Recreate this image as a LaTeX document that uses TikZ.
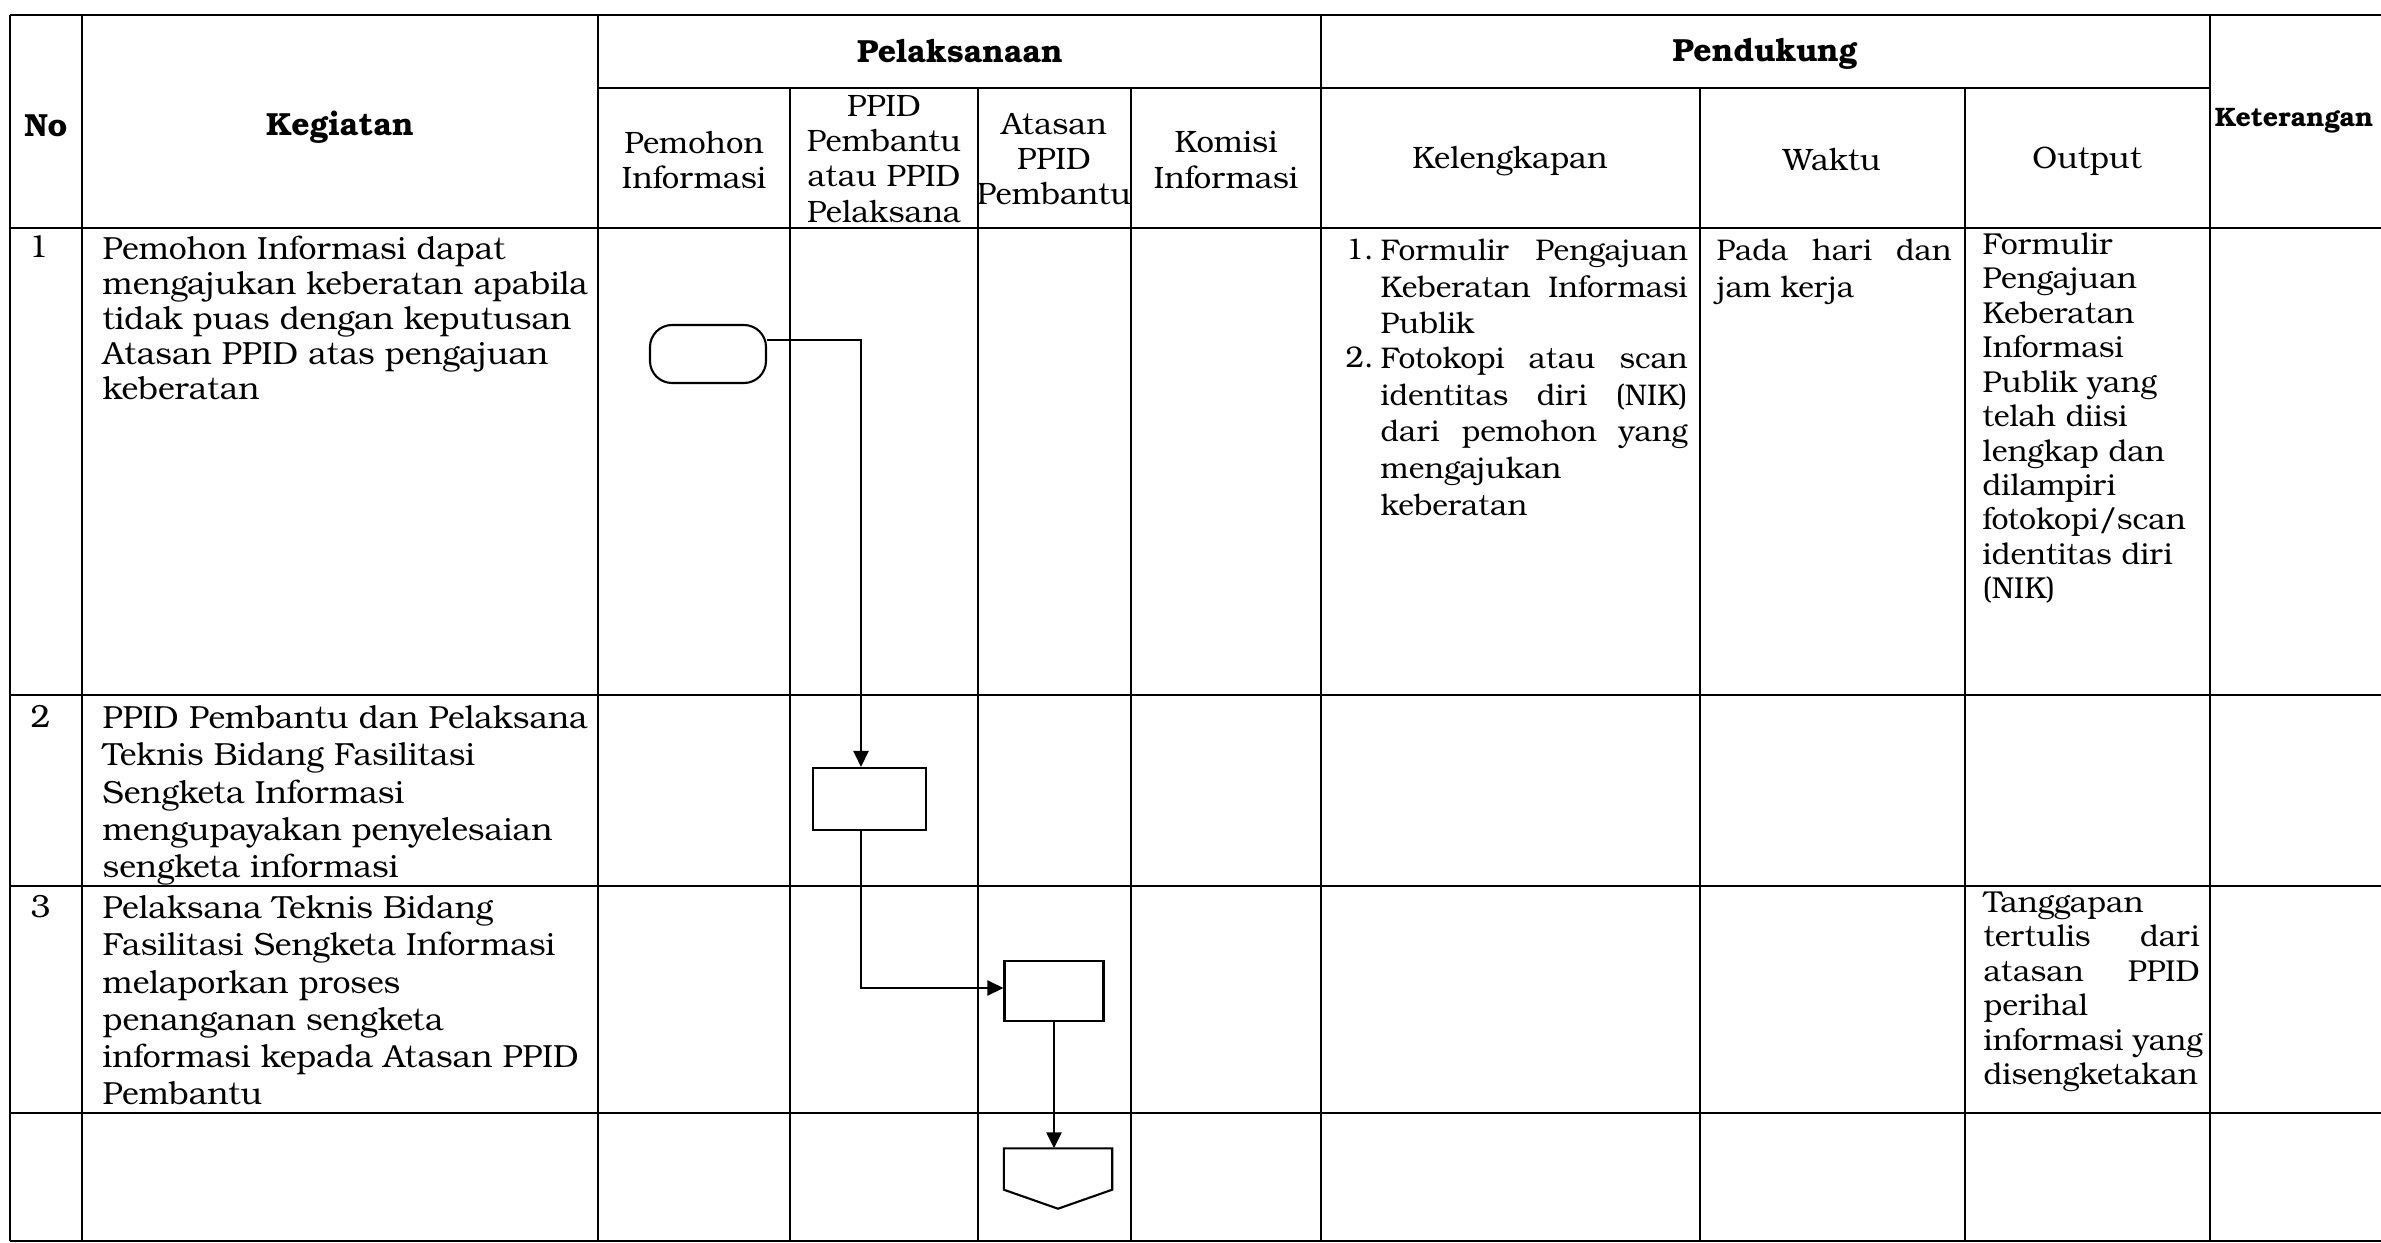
\documentclass[tikz,border=0pt]{standalone}
\usepackage{fontspec}
\setmainfont{TeX Gyre Bonum}
\usepackage{tikz}
\usetikzlibrary{arrows.meta}

\begin{document}
\begin{tikzpicture}[x=0.1mm,y=-0.1mm,
    tabline/.style={line width=0.5pt},
    hdr/.style={inner sep=0pt,font=\fontsize{9.1}{10.5}\selectfont\bfseries},
    subhdr/.style={inner sep=0pt,align=center,font=\fontsize{8.8}{10}\selectfont},
    cell/.style={anchor=north west,inner sep=0pt,align=left,font=\fontsize{9.1}{10.6}\selectfont},
    tightcell/.style={cell,font=\fontsize{9.1}{10}\selectfont},
    listcell/.style={cell,font=\fontsize{8.5}{10.5}\selectfont},
    outcell/.style={cell,font=\fontsize{8.6}{9.8}\selectfont},
    term/.style={draw,line width=0.6pt,rounded corners=2.2mm,minimum width=11.6mm,minimum height=5.8mm},
    proc/.style={draw,line width=0.6pt,inner sep=0pt},
    flow/.style={line width=0.7pt,-{Triangle[length=1.6mm,width=1.5mm]}}]

      \useasboundingbox (0,0) rectangle (2381,1243);

      % 横線
      \draw[tabline] (10,15) -- (2381,15);
      \draw[tabline] (598,88) -- (2210,88);
      \draw[tabline] (10,228) -- (2381,228);
      \draw[tabline] (10,695) -- (2381,695);
      \draw[tabline] (10,886) -- (2381,886);
      \draw[tabline] (10,1113) -- (2381,1113);
      \draw[tabline] (10,1241) -- (2381,1241);

      % 縦線
      \draw[tabline] (10,15) -- (10,1241);
      \draw[tabline] (82,15) -- (82,1241);
      \draw[tabline] (598,15) -- (598,1241);
      \draw[tabline] (790,88) -- (790,1241);
      \draw[tabline] (978,88) -- (978,1241);
      \draw[tabline] (1131,88) -- (1131,1241);
      \draw[tabline] (1321,15) -- (1321,1241);
      \draw[tabline] (1700,88) -- (1700,1241);
      \draw[tabline] (1965,88) -- (1965,1241);
      \draw[tabline] (2210,15) -- (2210,1241);

      % 見出し
      \node[hdr] (hno) at (46,126) {No};
      \node[hdr] (hkeg) at (340,127) {Kegiatan};
      \node[hdr] (hpel) at (960,51) {Pelaksanaan};
      \node[hdr] (hpen) at (1765,54) {Pendukung};
      \node[hdr,font=\fontsize{7.6}{9}\selectfont\bfseries] (hket) at (2294,121) {Keterangan};
      \node[subhdr] (hpem) at (694,160) {Pemohon\\Informasi};
      \node[subhdr] (hppid) at (884,159) {PPID\\Pembantu\\atau PPID\\Pelaksana};
      \node[subhdr] (hatas) at (1054,159) {Atasan\\PPID\\Pembantu};
      \node[subhdr] (hkom) at (1226,160) {Komisi\\Informasi};
      \node[subhdr] (hkel) at (1510,161) {Kelengkapan};
      \node[subhdr] (hwak) at (1832,160) {Waktu};
      \node[subhdr] (hout) at (2087,161) {Output};

      % 1行目
      \node[tightcell] (no1) at (28,235) {1};
      \node[tightcell] (keg1) at (102,235) {Pemohon Informasi dapat\\mengajukan keberatan apabila\\tidak puas dengan keputusan\\Atasan PPID atas pengajuan\\keberatan};
      \node[listcell] (num1) at (1345,238) {1.};
      \node[listcell] (kel1) at (1380,238) {\makebox[30.7mm][s]{Formulir Pengajuan}\\\makebox[30.7mm][s]{Keberatan Informasi}\\Publik};
      \node[listcell] (num2) at (1345,346) {2.};
      \node[listcell] (kel2) at (1380,346) {\makebox[30.7mm][s]{Fotokopi atau scan}\\\makebox[30.7mm][s]{identitas diri (NIK)}\\\makebox[30.7mm][s]{dari pemohon yang}\\mengajukan\\keberatan};
      \node[listcell] (wak1) at (1716,238) {\makebox[23.5mm][s]{Pada hari dan}\\jam kerja};
      \node[outcell] (out1) at (1982,232) {Formulir\\Pengajuan\\Keberatan\\Informasi\\Publik yang\\telah diisi\\lengkap dan\\dilampiri\\fotokopi/scan\\identitas diri\\(NIK)};

      % 2行目
      \node[cell] (no2) at (30,705) {2};
      \node[cell] (keg2) at (102,705) {PPID Pembantu dan Pelaksana\\Teknis Bidang Fasilitasi\\Sengketa Informasi\\mengupayakan penyelesaian\\sengketa informasi};

      % 3行目
      \node[cell] (no3) at (30,895) {3};
      \node[cell] (keg3) at (102,895) {Pelaksana Teknis Bidang\\Fasilitasi Sengketa Informasi\\melaporkan proses\\penanganan sengketa\\informasi kepada Atasan PPID\\Pembantu};
      \node[outcell] (out3) at (1983,891) {Tanggapan\\\makebox[21.6mm][s]{tertulis dari}\\\makebox[21.6mm][s]{atasan PPID}\\perihal\\informasi yang\\disengketakan};

      % 流れ図の記号
      \node[term] (t1) at (708,354) {};
      \node[proc,minimum width=11.3mm,minimum height=6.2mm] (p1) at (869.5,799) {};
      \node[proc,minimum width=9.9mm,minimum height=6mm] (p2) at (1054,991) {};
      \node[inner sep=0pt,minimum width=10.7mm,minimum height=4mm] (off1) at (1058,1169) {};
      \draw[line width=0.6pt] (off1.north west) -- (off1.north east) -- (off1.south east)
            -- ([yshift=-1.9mm]off1.south) -- (off1.south west) -- cycle;

      % 矢印
      \draw[flow] ([yshift=1.4mm]t1.east) -| ([xshift=-0.85mm]p1.north);
      \draw[flow] ([xshift=-0.85mm]p1.south) |- ([yshift=0.3mm]p2.west);
      \draw[flow] (p2.south) -- (p2.south |- off1.north);
    \end{tikzpicture}
\end{document}
